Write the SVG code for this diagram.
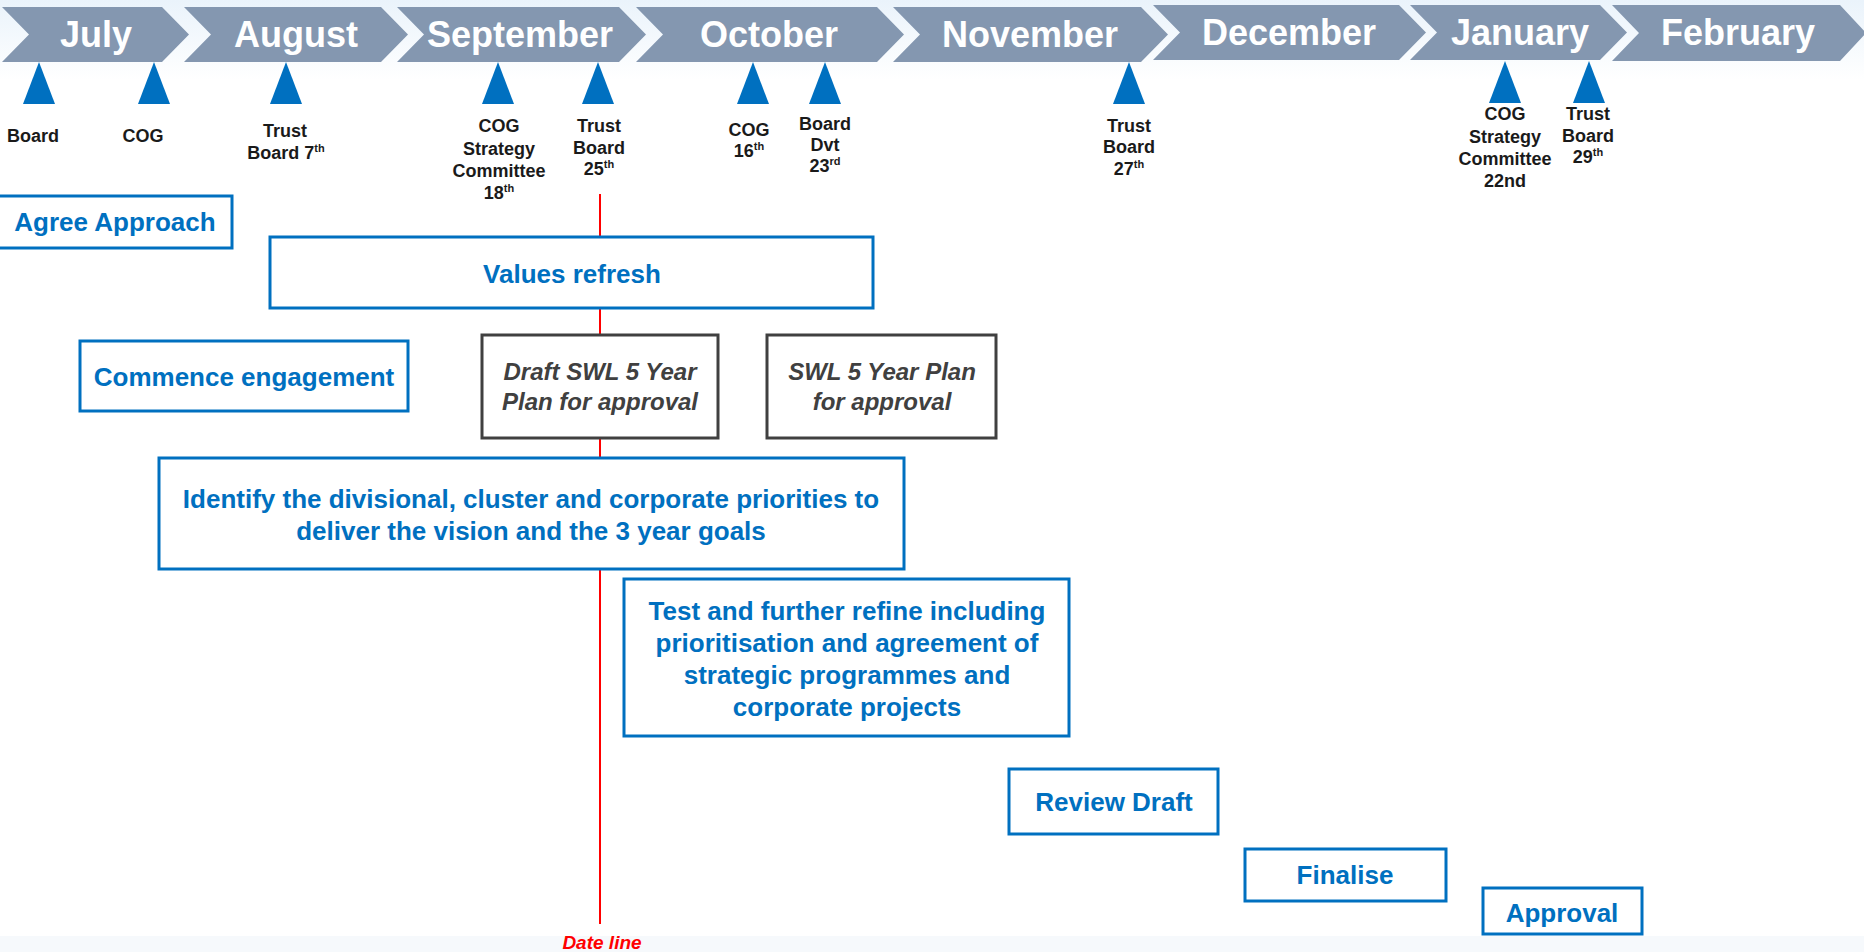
<svg xmlns="http://www.w3.org/2000/svg" width="1864" height="952" viewBox="0 0 1864 952">
<defs>
<linearGradient id="topbg" x1="0" y1="0" x2="0" y2="1">
<stop offset="0" stop-color="#eaf3fb"/>
<stop offset="1" stop-color="#ffffff"/>
</linearGradient>
<style>
.chev{fill:#8497b0;}
.month{font-family:"Liberation Sans",Arial,sans-serif;font-weight:bold;font-size:36px;fill:#ffffff;text-anchor:middle;}
.tri{fill:#0070c0;}
.lbl{font-family:"Liberation Sans",Arial,sans-serif;font-weight:bold;font-size:18px;fill:#1a1a1a;text-anchor:middle;}
.sup{font-size:11px;}
.box{fill:#ffffff;stroke:#0070c0;stroke-width:3;}
.gbox{fill:#ffffff;stroke:#404040;stroke-width:3;}
.bt{font-family:"Liberation Sans",Arial,sans-serif;font-weight:bold;font-size:26px;fill:#0070c0;text-anchor:middle;}
.gt{font-family:"Liberation Sans",Arial,sans-serif;font-weight:bold;font-style:italic;font-size:24px;fill:#404040;text-anchor:middle;}
.dl{font-family:"Liberation Sans",Arial,sans-serif;font-weight:bold;font-style:italic;font-size:19px;fill:#ff0000;text-anchor:middle;}
</style>
</defs>
<rect x="0" y="0" width="1864" height="952" fill="#ffffff"/>
<rect x="0" y="0" width="1864" height="80" fill="url(#topbg)"/>
<rect x="0" y="936" width="1864" height="16" fill="#f6f9fc"/>

<g id="timeline">
<g id="m-july"><polygon class="chev" points="2,7 162,7 189,34.5 162,62 2,62 29,34.5"/><text class="month" x="96" y="47">July</text></g>
<g id="m-august"><polygon class="chev" points="184,7 381,7 408,34.5 381,62 184,62 211,34.5"/><text class="month" x="296" y="47">August</text></g>
<g id="m-september"><polygon class="chev" points="397,7 619,7 646,34.5 619,62 397,62 424,34.5"/><text class="month" x="520" y="47">September</text></g>
<g id="m-october"><polygon class="chev" points="636,7 877,7 904,34.5 877,62 636,62 663,34.5"/><text class="month" x="769" y="47">October</text></g>
<g id="m-november"><polygon class="chev" points="893,7 1141,7 1168,34.5 1141,62 893,62 920,34.5"/><text class="month" x="1030" y="47">November</text></g>
<g id="m-december"><polygon class="chev" points="1153,5 1399,5 1426,32.5 1399,60 1153,60 1180,32.5"/><text class="month" x="1289" y="45">December</text></g>
<g id="m-january"><polygon class="chev" points="1410,5 1600,5 1627,32.5 1600,60 1410,60 1437,32.5"/><text class="month" x="1520" y="45">January</text></g>
<g id="m-february"><polygon class="chev" points="1612,5 1840,5 1866,33 1840,61 1612,61 1639,33"/><text class="month" x="1738" y="45">February</text></g>
</g>

<g id="connectors">
<line x1="600" y1="194" x2="600" y2="924" stroke="#ff0000" stroke-width="2"/>
</g>

<g id="ms-board-jul"><polygon class="tri" points="39,62 55,104 23,104"/><text class="lbl" x="33" y="142">Board</text></g>
<g id="ms-cog-jul"><polygon class="tri" points="154,62 170,104 138,104"/><text class="lbl" x="143" y="142">COG</text></g>
<g id="ms-trust-aug"><polygon class="tri" points="286,62 302,104 270,104"/><text class="lbl" x="285" y="137">Trust</text><text class="lbl" x="286" y="159">Board 7<tspan class="sup" dy="-7">th</tspan></text></g>
<g id="ms-cog-sep"><polygon class="tri" points="498,62 514,104 482,104"/><text class="lbl" x="499" y="132">COG</text><text class="lbl" x="499" y="155">Strategy</text><text class="lbl" x="499" y="177">Committee</text><text class="lbl" x="499" y="199">18<tspan class="sup" dy="-7">th</tspan></text></g>
<g id="ms-trust-sep"><polygon class="tri" points="598,62 614,104 582,104"/><text class="lbl" x="599" y="132">Trust</text><text class="lbl" x="599" y="154">Board</text><text class="lbl" x="599" y="175">25<tspan class="sup" dy="-7">th</tspan></text></g>
<g id="ms-cog-oct"><polygon class="tri" points="753,62 769,104 737,104"/><text class="lbl" x="749" y="136">COG</text><text class="lbl" x="749" y="157">16<tspan class="sup" dy="-7">th</tspan></text></g>
<g id="ms-board-oct"><polygon class="tri" points="825,62 841,104 809,104"/><text class="lbl" x="825" y="130">Board</text><text class="lbl" x="825" y="151">Dvt</text><text class="lbl" x="825" y="172">23<tspan class="sup" dy="-7">rd</tspan></text></g>
<g id="ms-trust-nov"><polygon class="tri" points="1129,62 1145,104 1113,104"/><text class="lbl" x="1129" y="132">Trust</text><text class="lbl" x="1129" y="153">Board</text><text class="lbl" x="1129" y="175">27<tspan class="sup" dy="-7">th</tspan></text></g>
<g id="ms-cog-jan"><polygon class="tri" points="1505,61 1521,103 1489,103"/><text class="lbl" x="1505" y="120">COG</text><text class="lbl" x="1505" y="143">Strategy</text><text class="lbl" x="1505" y="165">Committee</text><text class="lbl" x="1505" y="187">22nd</text></g>
<g id="ms-trust-jan"><polygon class="tri" points="1589,61 1605,103 1573,103"/><text class="lbl" x="1588" y="120">Trust</text><text class="lbl" x="1588" y="142">Board</text><text class="lbl" x="1588" y="163">29<tspan class="sup" dy="-7">th</tspan></text></g>

<g id="n-agree"><rect class="box" x="-2" y="196" width="234" height="52"/><text class="bt" x="115" y="231">Agree Approach</text></g>
<g id="n-values"><rect class="box" x="270" y="237" width="603" height="71"/><text class="bt" x="572" y="283">Values refresh</text></g>
<g id="n-commence"><rect class="box" x="80" y="341" width="328" height="70"/><text class="bt" x="244" y="386">Commence engagement</text></g>
<g id="n-draft"><rect class="gbox" x="482" y="335" width="236" height="103"/><text class="gt" x="600" y="380">Draft SWL 5 Year</text><text class="gt" x="600" y="410">Plan for approval</text></g>
<g id="n-swl"><rect class="gbox" x="767" y="335" width="229" height="103"/><text class="gt" x="882" y="380">SWL 5 Year Plan</text><text class="gt" x="882" y="410">for approval</text></g>
<g id="n-identify"><rect class="box" x="159" y="458" width="745" height="111"/><text class="bt" x="531" y="508">Identify the divisional, cluster and corporate priorities to</text><text class="bt" x="531" y="540">deliver the vision and the 3 year goals</text></g>
<g id="n-test"><rect class="box" x="624" y="579" width="445" height="157"/><text class="bt" x="847" y="620">Test and further refine including</text><text class="bt" x="847" y="652">prioritisation and agreement of</text><text class="bt" x="847" y="684">strategic programmes and</text><text class="bt" x="847" y="716">corporate projects</text></g>
<g id="n-review"><rect class="box" x="1009" y="769" width="209" height="65"/><text class="bt" x="1114" y="811">Review Draft</text></g>
<g id="n-finalise"><rect class="box" x="1245" y="849" width="201" height="52"/><text class="bt" x="1345" y="884">Finalise</text></g>
<g id="n-approval"><rect class="box" x="1483" y="888" width="159" height="46"/><text class="bt" x="1562" y="922">Approval</text></g>

<text class="dl" x="602" y="949">Date line</text>
</svg>
